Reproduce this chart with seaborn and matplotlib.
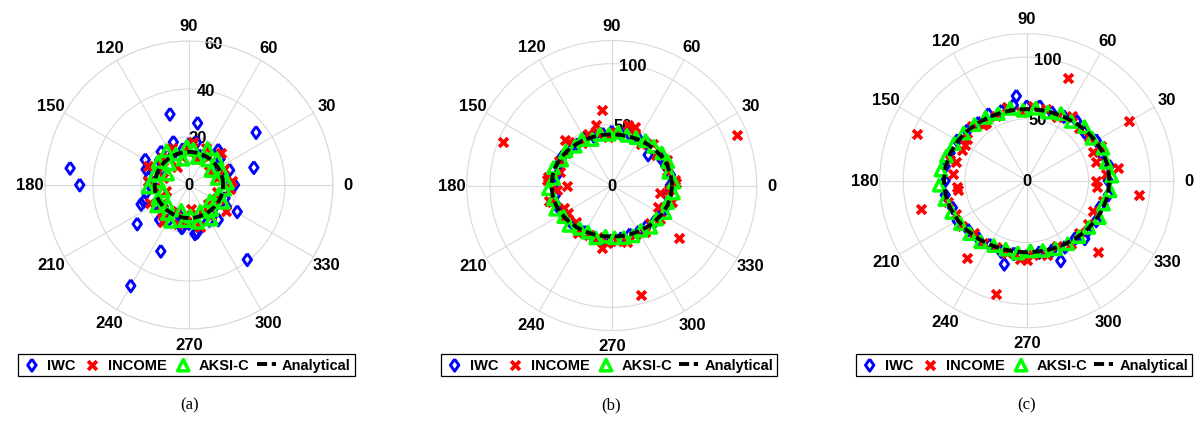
import matplotlib

matplotlib.use("Agg")
import matplotlib.pyplot as plt
import numpy as np
import seaborn as sns

# ring sample angles (degrees)
ANG_0 = [0, 10, 20, 30, 40, 50, 60, 70, 80, 90, 100, 110, 120, 130, 140, 150, 160, 170,
         180, 190, 200, 210, 220, 230, 240, 250, 260, 270, 280, 290, 300, 310, 320, 330, 340, 350]
ANG_3 = [3, 13, 23, 33, 43, 53, 63, 73, 83, 93, 103, 113, 123, 133, 143, 153, 163, 173,
         183, 193, 203, 213, 223, 233, 243, 253, 263, 273, 283, 293, 303, 313, 323, 333, 343, 353]
ANG_5 = [5, 15, 25, 35, 45, 55, 65, 75, 85, 95, 105, 115, 125, 135, 145, 155, 165, 175,
         185, 195, 205, 215, 225, 235, 245, 255, 265, 275, 285, 295, 305, 315, 325, 335, 345, 355]
ANG_FULL = ANG_0 + [360]

# ---- panel (a) ----
IWC_A_R = [19, 15, 18, 14, 17, 19, 16, 13, 18, 17, 15, 19, 14, 18, 16, 13, 19, 17,
           15, 18, 20, 16, 14, 19, 17, 13, 18, 16, 20, 15, 17, 19, 14, 18, 16, 15]
IWC_A_OUT_T = [105, 82, 38, 15, 172, 180, 150, 202, 217, 247, 240, 308, 331, 277, 261]
IWC_A_OUT_R = [30.5, 26, 35.5, 28, 50, 45.5, 21, 21.5, 27, 30, 48.5, 39.5, 23, 20.5, 18]
INCOME_A_R = [18, 12, 16, 10, 19, 14, 17, 11, 18, 15, 12, 17, 9, 16, 13, 19, 11, 17,
              14, 10, 18, 13, 16, 19, 12, 17, 15, 10, 18, 13, 16, 11, 19, 14, 12, 17]
AKSI_A_R = [16, 12, 15, 11, 16, 13, 17, 12, 15, 16, 11, 14, 17, 12, 16, 10, 15, 13,
            17, 11, 14, 16, 12, 15, 17, 11, 15, 13, 16, 12, 17, 14, 11, 16, 13, 15]
ANALYTIC_A_R = [14.3, 14.3, 14.2, 14.1, 14.0, 13.9, 13.9, 13.8, 13.8, 13.8, 13.8, 13.8, 13.9,
                13.9, 14.0, 14.1, 14.2, 14.3, 14.3, 14.3, 14.2, 14.1, 14.0, 13.9, 13.9, 13.8,
                13.8, 13.8, 13.8, 13.8, 13.9, 13.9, 14.0, 14.1, 14.2, 14.3, 14.3]

# ---- panel (b) ----
IWC_B_R = [48, 49, 47, 46, 39, 45, 44, 44, 43, 44, 43, 43, 45, 44, 45, 47, 47, 46,
           48, 47, 48, 46, 45, 46, 44, 45, 46, 45, 44, 43, 44, 44, 46, 47, 48, 46]
INCOME_B_R = [52, 47, 50, 44, 48, 42, 46, 51, 44, 40, 45, 47, 43, 50, 46, 48, 44, 53,
              45, 51, 43, 47, 42, 48, 45, 44, 47, 46, 48, 45, 47, 44, 48, 42, 51, 47]
INCOME_B_OUT_T = [97.5, 105, 158, 22, 322, 285, 261.5, 135.5, 172, 194, 68, 2, 180, 212, 351]
INCOME_B_OUT_R = [62.5, 51.5, 96, 111, 70.5, 93, 52, 53.5, 52.5, 53.5, 52, 53, 37, 42, 40]
AKSI_B_R = [51, 48, 50, 49, 47, 46, 44, 43, 44, 42, 43, 41, 45, 44, 47, 46, 50, 48,
            52, 49, 50, 47, 48, 44, 43, 45, 42, 43, 44, 45, 44, 47, 46, 49, 48, 51]
ANALYTIC_B_R = [49.5, 49.2, 48.5, 47.3, 46.0, 44.7, 43.6, 42.7, 42.2, 42.0, 42.2, 42.7, 43.6,
                44.7, 46.0, 47.3, 48.5, 49.2, 49.5, 49.2, 48.5, 47.3, 46.0, 44.7, 43.6, 42.7,
                42.2, 42.0, 42.2, 42.7, 43.6, 44.7, 46.0, 47.3, 48.5, 49.2, 49.5]

# ---- panel (c) ----
IWC_C_R = [66, 68, 64, 65, 61, 63, 60, 59, 61, 60, 62, 60, 62, 61, 63, 65, 66, 67,
           66, 67, 64, 65, 62, 61, 60, 61, 60, 61, 59, 60, 62, 61, 64, 65, 63, 67]
IWC_C_OUT_T = [255, 293, 97, 315]
IWC_C_OUT_R = [70, 70.5, 69, 66.5]
INCOME_C_R = [64, 58, 66, 62, 60, 64, 57, 60, 61, 56, 62, 58, 57, 63, 59, 58, 64, 60,
              57, 66, 63, 64, 60, 62, 59, 61, 64, 60, 62, 58, 63, 60, 61, 59, 64, 57]
INCOME_C_OUT_T = [68, 30, 8, 352.5, 157, 195, 232, 255, 315, 270, 0, 188, 165, 150, 128, 23]
INCOME_C_OUT_R = [90, 96, 75, 91.5, 96.5, 88.5, 79, 95, 82, 64.5, 56, 56.5, 59, 58, 57, 58.5]
AKSI_C_R = [69, 66, 67, 63, 64, 60, 61, 58, 59, 57, 60, 59, 61, 62, 64, 66, 68, 70,
            71, 68, 66, 64, 63, 62, 59, 58, 59, 57, 58, 60, 61, 62, 63, 66, 65, 68]
ANALYTIC_C_R = [67, 66.7, 65.7, 64.4, 62.8, 61.2, 59.8, 58.8, 58.2, 58, 58.2, 58.8, 59.8,
                61.2, 62.8, 64.4, 65.7, 66.7, 67, 66.7, 65.7, 64.4, 62.8, 61.2, 59.8, 58.8,
                58.2, 58, 58.2, 58.8, 59.8, 61.2, 62.8, 64.4, 65.7, 66.7, 67]

THETA_TICKS = [0, 30, 60, 90, 120, 150, 180, 210, 240, 270, 300, 330]
CAPTIONS = ["(a)", "(b)", "(c)"]
LABELS = ["IWC", "INCOME", "AKSI-C", "Analytical"]

panels = [
    {
        "iwc": (ANG_0 + IWC_A_OUT_T, IWC_A_R + IWC_A_OUT_R),
        "income": (ANG_5, INCOME_A_R),
        "aksi": (ANG_3, AKSI_A_R),
        "analytic": (ANG_FULL, ANALYTIC_A_R),
        "rticks": [0, 20, 40, 60], "rmax": 60,
        "rect": [0.0374, 0.2414, 0.2396, 0.6621], "legend_x": 0.155, "cap_x": 0.158,
    },
    {
        "iwc": (ANG_0, IWC_B_R),
        "income": (ANG_5 + INCOME_B_OUT_T, INCOME_B_R + INCOME_B_OUT_R),
        "aksi": (ANG_3, AKSI_B_R),
        "analytic": (ANG_FULL, ANALYTIC_B_R),
        "rticks": [0, 50, 100], "rmax": 119,
        "rect": [0.3883, 0.2379, 0.2413, 0.6667], "legend_x": 0.5067, "cap_x": 0.508,
    },
    {
        "iwc": (ANG_0 + IWC_C_OUT_T, IWC_C_R + IWC_C_OUT_R),
        "income": (ANG_5 + INCOME_C_OUT_T, INCOME_C_R + INCOME_C_OUT_R),
        "aksi": (ANG_3, AKSI_C_R),
        "analytic": (ANG_FULL, ANALYTIC_C_R),
        "rticks": [0, 50, 100], "rmax": 119,
        "rect": [0.7319, 0.2444, 0.2446, 0.6759], "legend_x": 0.852, "cap_x": 0.854,
    },
]

sns.set_theme(style="white")
plt.rcParams["font.family"] = ["Liberation Sans", "DejaVu Sans"]
plt.rcParams["text.color"] = "black"
plt.rcParams["xtick.color"] = "black"
plt.rcParams["ytick.color"] = "black"

# MATLAB-style diamond, a bit wider than matplotlib's "d"
diamond = [(0, 1), (0.7, 0), (0, -1), (-0.7, 0), (0, 1)]

fig = plt.figure(figsize=(12.02, 4.35), dpi=100)
grid_color = "#d9d9d9"

for p, cap in zip(panels, CAPTIONS):
    ax = fig.add_axes(p["rect"], projection="polar")

    t, r = p["iwc"]
    sns.scatterplot(x=np.deg2rad(t), y=r, ax=ax, marker=diamond, s=75, color="blue",
                    facecolor="none", edgecolor="blue", linewidth=2.1, label=LABELS[0], zorder=3)
    t, r = p["income"]
    sns.scatterplot(x=np.deg2rad(t), y=r, ax=ax, marker="x", s=40, color="red",
                    linewidth=2.7, label=LABELS[1], zorder=4)
    t, r = p["aksi"]
    sns.scatterplot(x=np.deg2rad(t), y=r, ax=ax, marker="^", s=66, color="#00ff00",
                    facecolor="none", edgecolor="#00ff00", linewidth=2.5, label=LABELS[2], zorder=5)
    t, r = p["analytic"]
    sns.lineplot(x=np.deg2rad(t), y=r, ax=ax, sort=False, estimator=None, color="black",
                 linewidth=2.8, linestyle=(0, (2.6, 1.2)), label=LABELS[3], zorder=6)

    ax.set_rlim(0, p["rmax"])
    ax.set_yticks(p["rticks"])
    ax.set_yticklabels([])
    ax.set_thetagrids(THETA_TICKS, labels=[str(a) for a in THETA_TICKS],
                      fontsize=12, fontweight="bold", color="black")
    ax.tick_params(axis="x", pad=4, length=0)
    ax.tick_params(axis="y", length=0)
    ax.grid(True, color=grid_color, linewidth=0.8)
    ax.spines["polar"].set_color(grid_color)
    ax.spines["polar"].set_linewidth(0.8)
    ax.set_xlabel("")
    ax.set_ylabel("")

    for rt in p["rticks"]:
        ax.text(np.deg2rad(80), rt, str(rt), ha="center", va="center", color="black",
                fontsize=12, fontweight="bold", zorder=2)

    handles, labels = ax.get_legend_handles_labels()
    if ax.get_legend() is not None:
        ax.get_legend().remove()
    leg = fig.legend(handles, labels, loc="center", bbox_to_anchor=(p["legend_x"], 0.1586),
                     ncol=4, prop={"weight": "bold", "size": 10.5},
                     handlelength=1.3, handletextpad=0.4, columnspacing=0.5,
                     borderpad=0.3, frameon=True, fancybox=False, framealpha=1)
    leg.get_frame().set_edgecolor("black")
    leg.get_frame().set_linewidth(0.9)

    fig.text(p["cap_x"], 0.069, cap, ha="center", va="center", color="black",
             family="Liberation Serif", fontsize=12)

fig.savefig("out.png", dpi=100)
